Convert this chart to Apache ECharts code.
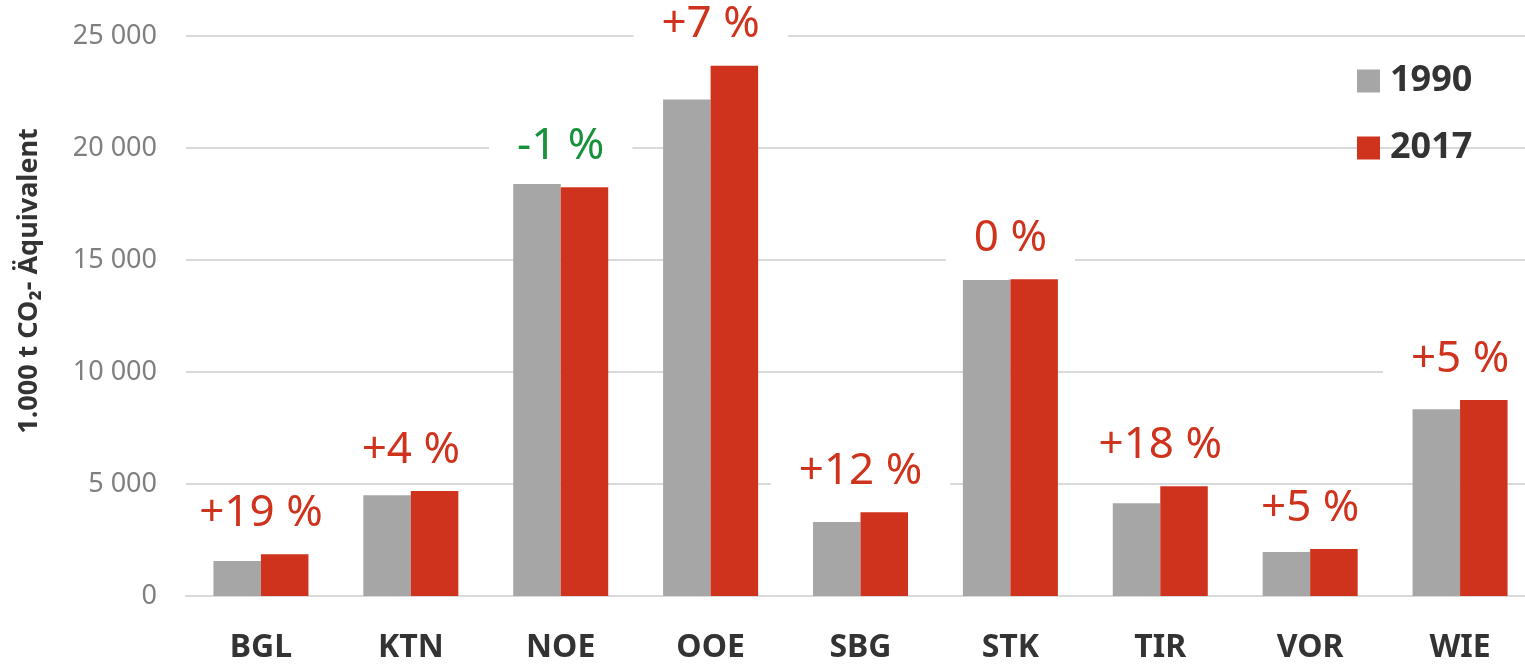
<!DOCTYPE html>
<html>
<head>
<meta charset="utf-8">
<script src="https://cdn.jsdelivr.net/npm/echarts@6/dist/echarts.min.js"></script>
<style>
  html, body { margin: 0; padding: 0; background: #fff; overflow: hidden; }
  #chart { width: 1545px; height: 665px; }
</style>
</head>
<body>
<div id="chart"></div>
<script>
// Treibhausgas-Emissionen je Bundesland, 1990 vs 2017
const categories = ['BGL', 'KTN', 'NOE', 'OOE', 'SBG', 'STK', 'TIR', 'VOR', 'WIE']
const values1990 = [1560, 4494, 18393, 22170, 3304, 14107, 4137, 1964, 8333]
const values2017 = [1860, 4688, 18244, 23675, 3735, 14137, 4896, 2098, 8750]
const changeLabels = ['+19 %', '+4 %', '-1 %', '+7 %', '+12 %', '0 %', '+18 %', '+5 %', '+5 %']
const yTicks = [0, 5000, 10000, 15000, 20000, 25000]

const grey = '#a6a6a6'
const red = '#cf331d'
const green = '#17913a'
const font = "'Noto Sans', 'Open Sans', sans-serif"

const chart = echarts.init(document.getElementById('chart'))

const option = {
  animation: false,
  textStyle: { fontFamily: font },
  grid: { left: 186, top: 36, width: 1349, bottom: 69, containLabel: false },
  legend: {
    orient: 'vertical',
    left: 1357,
    top: 63,
    padding: 0,
    icon: 'rect',
    itemWidth: 23,
    itemHeight: 23,
    itemGap: 31,
    textStyle: {
      fontSize: 36, fontWeight: 'bold', color: '#333', fontFamily: font,
      padding: [0, 0, 0, 5]
    },
    data: ['1990', '2017']
  },
  graphic: [{
    type: 'text',
    x: 29,
    y: 281,
    rotation: Math.PI / 2,
    style: {
      text: '1.000 t CO₂- Äquivalent',
      font: "bold 27px 'Noto Sans', sans-serif",
      fill: '#333',
      textAlign: 'center',
      textVerticalAlign: 'middle'
    }
  }],
  xAxis: {
    type: 'category',
    data: categories,
    axisTick: { show: false },
    axisLine: { lineStyle: { color: '#d9d9d9', width: 2 } },
    axisLabel: { fontSize: 32, fontWeight: 'bold', color: '#333', margin: 36, fontFamily: font }
  },
  yAxis: {
    type: 'value',
    min: yTicks[0],
    max: yTicks[yTicks.length - 1],
    interval: yTicks[1] - yTicks[0],
    axisLine: { show: false },
    axisTick: { show: false },
    splitLine: { lineStyle: { color: '#d9d9d9', width: 2 } },
    axisLabel: {
      fontSize: 27, color: '#7f7f7f', margin: 29, fontFamily: font,
      formatter: v => String(v).replace(/\B(?=(\d{3})+(?!\d))/g, ' ')
    }
  },
  series: [
    {
      name: '1990',
      type: 'bar',
      data: values1990,
      barWidth: 47.5,
      barGap: '0%',
      itemStyle: { color: grey }
    },
    {
      name: '2017',
      type: 'bar',
      // farbige Labels je Wert
      data: values2017.map((v, i) => ({
        value: v,
        label: { color: changeLabels[i].startsWith('-') ? green : red }
      })),
      barWidth: 47.5,
      barGap: '0%',
      itemStyle: { color: red },
      label: {
        show: true,
        position: 'top',
        distance: 18,
        offset: [-23.75, 0],
        fontSize: 44,
        lineHeight: 46,
        fontFamily: font,
        backgroundColor: '#fff',
        padding: [0, 28],
        formatter: p => changeLabels[p.dataIndex]
      }
    }
  ]
}

chart.setOption(option)
</script>
</body>
</html>
